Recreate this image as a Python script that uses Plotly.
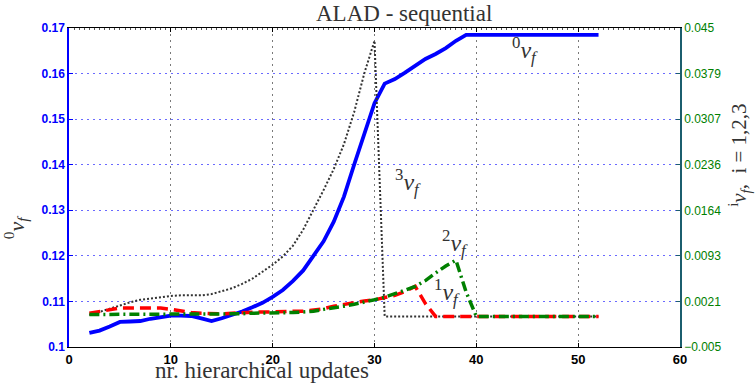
import plotly.graph_objects as go

# hierarchical update index (shared by all series)
updates = list(range(2, 53))

# 0v_f  (left axis)
v0 = [0.1031, 0.1036, 0.1045, 0.1055, 0.1056, 0.1057, 0.1062, 0.1066, 0.1069, 0.1069,
      0.1068, 0.1063, 0.1057, 0.1063, 0.1070, 0.1078, 0.1087, 0.1097, 0.1110, 0.1125,
      0.1145, 0.1168, 0.1200, 0.1232, 0.1275, 0.1330, 0.1400, 0.1470, 0.1535, 0.1578,
      0.1588, 0.1602, 0.1618, 0.1632, 0.1643, 0.1656, 0.1672, 0.1685, 0.1685, 0.1685,
      0.1685, 0.1685, 0.1685, 0.1685, 0.1685, 0.1685, 0.1685, 0.1685, 0.1685, 0.1685,
      0.1685]

# 1v_f, 2v_f, 3v_f  (right axis)
v1 = [0.0003, 0.0006, 0.0009, 0.0011, 0.0011, 0.0011, 0.0011, 0.0011, 0.0009, 0.0006,
      0.0004, 0.0003, 0.0002, 0.0002, 0.0003, 0.0004, 0.0004, 0.0005, 0.0005, 0.0006,
      0.0006, 0.0006, 0.0008, 0.0010, 0.0014, 0.0017, 0.0020, 0.0022, 0.0024, 0.0027,
      0.0031, 0.0037, 0.0045, 0.0018, -0.0002, -0.0002, -0.0002, -0.0002, -0.0002, -0.0002,
      -0.0002, -0.0002, -0.0002, -0.0002, -0.0002, -0.0002, -0.0002, -0.0002, -0.0002, -0.0002,
      -0.0002]
v2 = [0.0001, 0.0001, 0.0002, 0.0002, 0.0002, 0.0002, 0.0002, 0.0002, 0.0002, 0.0002,
      0.0002, 0.0001, 0.0001, 0.0001, 0.0002, 0.0002, 0.0003, 0.0003, 0.0004, 0.0004,
      0.0004, 0.0005, 0.0006, 0.0009, 0.0011, 0.0014, 0.0017, 0.0020, 0.0024, 0.0028,
      0.0033, 0.0039, 0.0045, 0.0054, 0.0066, 0.0077, 0.0086, 0.0036, -0.0002, -0.0002,
      -0.0002, -0.0002, -0.0002, -0.0002, -0.0002, -0.0002, -0.0002, -0.0002, -0.0002, -0.0002,
      -0.0002]
v3 = [0.0000, 0.0005, 0.0011, 0.0016, 0.0020, 0.0024, 0.0026, 0.0029, 0.0030, 0.0031,
      0.0031, 0.0031, 0.0033, 0.0037, 0.0042, 0.0049, 0.0057, 0.0068, 0.0079, 0.0092,
      0.0109, 0.0134, 0.0164, 0.0196, 0.0229, 0.0268, 0.0318, 0.0379, 0.0430, -0.0002,
      -0.0002, -0.0002, -0.0002, -0.0002, -0.0002, -0.0002, -0.0002, -0.0002, -0.0002, -0.0002,
      -0.0002, -0.0002, -0.0002, -0.0002, -0.0002, -0.0002, -0.0002, -0.0002, -0.0002, -0.0002,
      -0.0002]

x_ticks = [0, 10, 20, 30, 40, 50, 60]
left_ticks = [0.1, 0.11, 0.12, 0.13, 0.14, 0.15, 0.16, 0.17]
left_labels = ["0.1", "0.11", "0.12", "0.13", "0.14", "0.15", "0.16", "0.17"]
right_ticks = [-0.005, 0.0021, 0.0093, 0.0164, 0.0236, 0.0307, 0.0379, 0.045]
right_labels = ["\u22120.005", "0.0021", "0.0093", "0.0164", "0.0236", "0.0307", "0.0379", "0.045"]

BLUE = "#0000ff"
RED = "#ff0000"
GREEN = "#008000"
TEAL = "#1b5e6e"
SERIF = "Liberation Serif"
SANS = "Liberation Sans"
INK = "#333333"

fig = go.Figure()
fig.add_trace(go.Scatter(x=updates, y=v3, yaxis="y2", mode="lines",
                         line=dict(color="#333333", width=2, dash="2px,2px")))
fig.add_trace(go.Scatter(x=updates, y=v1, yaxis="y2", mode="lines",
                         line=dict(color=RED, width=3.5, dash="11px,6px")))
fig.add_trace(go.Scatter(x=updates, y=v2, yaxis="y2", mode="lines",
                         line=dict(color=GREEN, width=3.5, dash="10px,4px,2px,4px")))
fig.add_trace(go.Scatter(x=updates, y=v0, yaxis="y", mode="lines",
                         line=dict(color=BLUE, width=3.8)))


def vf(sup):
    return f"<sup>{sup}</sup><i>v</i><sub><i>f</i></sub>"


annotations = [
    dict(text="ALAD - sequential", xref="paper", yref="paper", x=0.548, y=1.046,
         font=dict(family=SERIF, size=23, color=INK)),
    dict(text="nr. hierarchical updates", xref="paper", yref="paper", x=0.316, y=-0.074,
         font=dict(family=SERIF, size=23, color=INK)),
    dict(text=vf(0), xref="paper", yref="paper", x=-0.087, y=0.375, textangle=-90,
         font=dict(family=SERIF, size=22, color=INK)),
    dict(text=vf("i") + ",  i = 1,2,3", xref="paper", yref="paper", x=1.097, y=0.600,
         textangle=-90, font=dict(family=SERIF, size=21, color=INK)),
    dict(text=vf(0), xref="x", yref="y", x=44.8, y=0.1652,
         font=dict(family=SERIF, size=24, color=INK)),
    dict(text=vf(3), xref="x", yref="y", x=33.3, y=0.1362,
         font=dict(family=SERIF, size=24, color=INK)),
    dict(text=vf(2), xref="x", yref="y", x=37.9, y=0.1228,
         font=dict(family=SERIF, size=24, color=INK)),
    dict(text=vf(1), xref="x", yref="y", x=37.1, y=0.1121,
         font=dict(family=SERIF, size=24, color=INK)),
]
for a in annotations:
    a.update(showarrow=False, xanchor="center", yanchor="middle")

fig.update_layout(
    width=755, height=384,
    margin=dict(l=69, r=75, t=28, b=37),
    paper_bgcolor="white", plot_bgcolor="white",
    showlegend=False,
    annotations=annotations,
    xaxis=dict(range=[0, 60], tickvals=x_ticks, showline=True, linecolor="black",
               linewidth=1.2, mirror=True, ticks="inside", ticklen=4, tickcolor="black",
               showgrid=True, gridcolor="#7a7a7a", griddash="2px,4px", gridwidth=1,
               zeroline=False, tickfont=dict(family=SANS, size=13, color="black",
                                             weight="bold")),
    xaxis2=dict(overlaying="x", side="top", range=[0, 60], tickvals=x_ticks,
                showticklabels=False, ticks="inside", ticklen=4, tickcolor="black",
                showgrid=False, zeroline=False,
                minor=dict(ticks="inside", ticklen=2, dtick=0.5, tickcolor="#555555",
                           showgrid=False)),
    yaxis=dict(range=[0.1, 0.17], tickvals=left_ticks, ticktext=left_labels,
               showline=True, linecolor=BLUE, linewidth=1.5, ticks="inside", ticklen=4,
               tickcolor=BLUE, showgrid=True, gridcolor="#6a6aff", griddash="2px,4px",
               gridwidth=1, zeroline=False,
               tickfont=dict(family=SANS, size=12, color=BLUE, weight="bold")),
    yaxis2=dict(overlaying="y", side="right", range=[-0.005, 0.045],
                tickvals=right_ticks, ticktext=right_labels, showline=True,
                linecolor=TEAL, linewidth=1.5, ticks="inside", ticklen=4, tickcolor=TEAL,
                showgrid=False, zeroline=False,
                tickfont=dict(family=SANS, size=12, color=GREEN)),
)

# zero-width trace so the top axis with its minor ticks is rendered
fig.add_trace(go.Scatter(x=[0, 60], y=[0.1, 0.1], xaxis="x2", mode="lines",
                         line=dict(width=0), hoverinfo="skip", showlegend=False))

fig.write_html("out.html")
